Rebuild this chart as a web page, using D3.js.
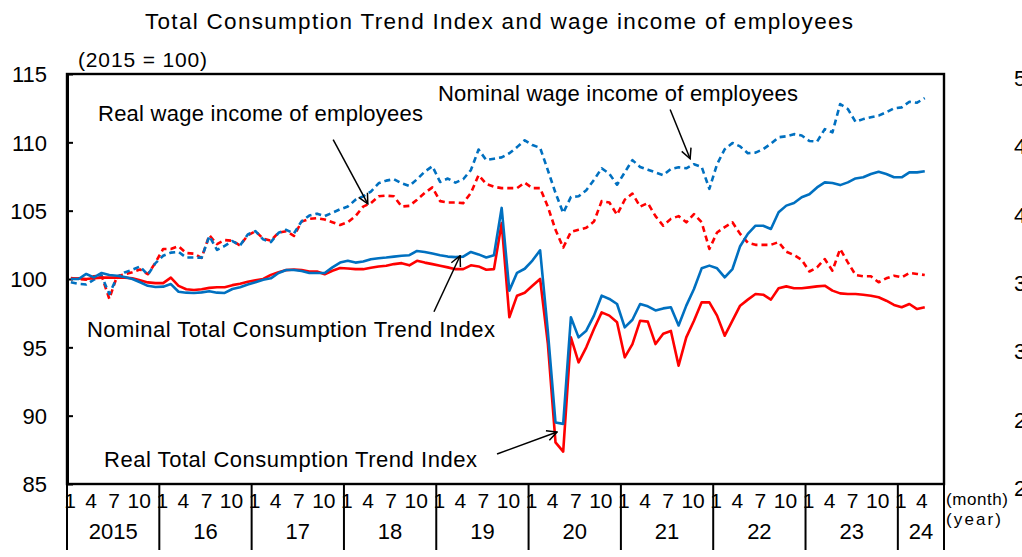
<!DOCTYPE html>
<html>
<head>
<meta charset="utf-8">
<script src="https://cdn.jsdelivr.net/npm/d3@7"></script>
<style>
  html, body { margin: 0; padding: 0; background: #fff; overflow: hidden; }
  text { font-family: "Liberation Sans", Arial, sans-serif; fill: #000; }
</style>
</head>
<body>
<div class="chart__wrapper"></div>
<script>
// monthly values, Jan 2015 .. Apr 2024 (2015 = 100)
const yearLabels = ["2015", "16", "17", "18", "19", "20", "21", "22", "23", "24"];
const monthLabels = ["1", "4", "7", "10"];
const monthsOnAxis = 114; // Jan 2015 .. Jun 2024
const yTicks = [85, 90, 95, 100, 105, 110, 115];
const rightTickLabels = ["50", "45", "40", "35", "30", "25", "20"];

const nominalTCI = [
  100.0, 100.0, 100.37, 100.12, 100.44, 100.29, 100.24, 100.15, 100.0, 99.76, 99.5, 99.41,
  99.44, 99.63, 99.07, 99.0, 98.98, 99.02, 99.1, 99.0, 98.98, 99.27, 99.4, 99.6,
  99.76, 99.95, 100.05, 100.44, 100.66, 100.66, 100.59, 100.44, 100.44, 100.44, 100.85, 101.2,
  101.33, 101.2, 101.28, 101.45, 101.52, 101.57, 101.64, 101.7, 101.74, 102.05, 101.98, 101.86,
  101.74, 101.64, 101.6, 101.64, 101.98, 101.8, 101.57, 101.74, 105.2, 99.15, 100.45, 100.75,
  101.35, 102.1, 96.2, 89.5, 89.4, 97.2, 95.73, 96.22, 97.32, 98.78, 98.54, 98.17,
  96.46, 97.02, 98.17, 98.0, 97.7, 97.85, 97.93, 96.6, 98.05, 99.27, 100.78, 100.98,
  100.78, 100.12, 100.73, 102.4, 103.3, 103.9, 103.9, 103.66, 104.88, 105.37, 105.56, 105.98,
  106.2, 106.7, 107.07, 107.02, 106.87, 107.07, 107.36, 107.44, 107.68, 107.85, 107.68, 107.44,
  107.44, 107.8, 107.8, 107.88
];
const realTCI = [
  100.0, 100.05, 100.0, 100.05, 100.1, 100.1, 100.1, 100.1, 100.05, 99.9, 99.75, 99.7,
  99.7, 100.1, 99.5, 99.25, 99.2, 99.25, 99.35, 99.4, 99.4, 99.55, 99.65, 99.8,
  99.9, 100.0, 100.3, 100.5, 100.65, 100.7, 100.65, 100.55, 100.55, 100.35, 100.6, 100.8,
  100.77, 100.72, 100.72, 100.82, 100.92, 100.97, 101.09, 101.16, 101.0, 101.33, 101.2, 101.09,
  100.97, 100.85, 100.72, 100.72, 101.0, 100.92, 100.68, 100.72, 104.1, 97.2, 98.78, 99.0,
  99.5, 100.0, 95.3, 88.05, 87.37, 95.73, 93.9, 95.0, 96.34, 97.56, 97.32, 96.83,
  94.27, 95.24, 96.95, 96.88, 95.24, 96.0, 96.2, 93.66, 95.73, 96.95, 98.29, 98.29,
  97.32, 95.85, 96.95, 98.05, 98.49, 98.9, 98.85, 98.49, 99.32, 99.46, 99.32, 99.32,
  99.39, 99.46, 99.51, 99.15, 98.95, 98.9, 98.9, 98.85, 98.78, 98.66, 98.41, 98.1,
  97.93, 98.17, 97.8, 97.93
];
const nominalWage = [
  99.76, 99.64, 99.6, 99.95, 100.24, 98.9, 100.12, 100.48, 100.68, 100.92, 100.3, 101.16,
  101.7, 101.93, 101.98, 101.57, 101.57, 101.55, 103.14, 102.13, 102.42, 102.78, 102.46, 103.26,
  103.5, 102.9, 102.7, 103.38, 103.6, 103.33, 104.23, 104.64, 104.78, 104.6, 104.85, 105.1,
  105.3, 105.8, 106.05, 106.4, 107.0, 107.2, 107.3, 107.0, 106.8, 107.3, 107.85, 108.25,
  107.1, 107.35, 107.05, 107.3, 107.97, 109.47, 108.7, 108.8, 108.9, 109.2, 109.65, 110.15,
  109.8, 109.6, 107.97, 106.3, 104.83, 106.0, 106.05, 106.5, 107.25, 108.1, 107.7, 106.9,
  107.8, 108.7, 108.2, 108.0, 107.8, 107.6, 108.05, 108.17, 108.1, 108.4, 108.2, 106.6,
  108.4, 109.5, 109.95, 109.7, 109.2, 109.25, 109.5, 109.9, 110.37, 110.44, 110.6, 110.5,
  110.1, 110.05, 110.97, 110.73, 112.8, 112.44, 111.5, 111.7, 111.83, 111.95, 112.2, 112.49,
  112.56, 112.97, 112.9, 113.24
];
const realWage = [
  100.07, 100.0, 99.95, 100.2, 100.25, 98.55, 100.2, 100.35, 100.5, 100.7, 100.35, 101.2,
  102.2, 102.2, 102.4, 101.9, 101.85, 101.55, 103.2, 102.55, 102.85, 102.8, 102.45, 103.2,
  103.5, 102.95, 102.8, 103.4, 103.5, 103.15, 104.2, 104.4, 104.45, 104.35, 104.15, 103.95,
  104.15, 104.6, 105.3, 105.55, 106.05, 106.1, 106.05, 105.3, 105.35, 105.8, 106.3, 106.7,
  105.7, 105.6, 105.6, 105.55, 106.3, 107.6, 106.95, 106.75, 106.65, 106.65, 106.65, 107.05,
  106.65, 106.65, 105.3, 103.6, 102.3, 103.45, 103.6, 103.75, 104.2, 105.7, 105.6, 104.7,
  105.8, 106.25, 105.3, 105.55, 104.6, 103.9, 104.4, 104.6, 104.15, 104.75, 104.15, 102.2,
  103.4, 103.8, 104.15, 103.3, 102.65, 102.5, 102.5, 102.5, 102.7, 102.0, 101.75, 101.4,
  100.55, 100.85, 101.46, 100.61, 102.2, 101.22, 100.3, 100.2, 100.2, 99.76, 100.05, 100.24,
  100.12, 100.44, 100.37, 100.29
];

const series = [
  { name: "Real wage income of employees", values: realWage, color: "#ff0000", dash: "6,4" },
  { name: "Nominal wage income of employees", values: nominalWage, color: "#0070c0", dash: "6,4" },
  { name: "Real Total Consumption Trend Index", values: realTCI, color: "#ff0000", dash: null },
  { name: "Nominal Total Consumption Trend Index", values: nominalTCI, color: "#0070c0", dash: null },
];

// label text box (px) and arrow from/to in (month index, value)
const notes = [
  { text: "Real wage income of employees", x: 98, y: 121, w: 325, from: [34.1, 110.2], to: [38.6, 105.5] },
  { text: "Nominal wage income of employees", x: 438, y: 101, w: 360, from: [77.9, 112.4], to: [80.5, 108.8] },
  { text: "Nominal Total Consumption Trend Index", x: 87, y: 337, w: 408, from: [47.2, 97.6], to: [50.6, 101.7] },
  { text: "Real Total Consumption Trend Index", x: 104, y: 467, w: 373, from: [55.4, 87.2], to: [63.2, 88.8] },
];

const svgWidth = 1022;
const svgHeight = 557;
const margin = { top: 74, right: 78, bottom: 73, left: 67 };
const width = svgWidth - margin.left - margin.right;
const height = svgHeight - margin.top - margin.bottom;

const root = d3
  .select(".chart__wrapper")
  .append("svg")
  .attr("width", svgWidth)
  .attr("height", svgHeight);

root
  .append("text")
  .attr("x", 145)
  .attr("y", 29)
  .attr("font-size", 22.5)
  .attr("textLength", 708)
  .attr("lengthAdjust", "spacing")
  .text("Total Consumption Trend Index and wage income of employees");

root
  .append("text")
  .attr("x", 78)
  .attr("y", 67)
  .attr("font-size", 21)
  .attr("textLength", 129)
  .attr("lengthAdjust", "spacing")
  .text("(2015 = 100)");

const svg = root.append("g").attr("transform", `translate(${margin.left},${margin.top})`);

const x = d3.scaleLinear().domain([0, monthsOnAxis]).range([0, width]);
const y = d3.scaleLinear().domain([85, 115]).range([height, 0]);

// frame
svg
  .append("rect")
  .attr("width", width)
  .attr("height", height)
  .attr("fill", "none")
  .attr("stroke", "#000")
  .attr("stroke-width", 2.4);

const yAxis = svg
  .append("g")
  .call(d3.axisLeft(y).tickValues(yTicks).tickSizeInner(-6).tickSizeOuter(0).tickPadding(20));
yAxis.select(".domain").attr("stroke-width", 3);
yAxis.selectAll("line").attr("stroke-width", 2);
yAxis.selectAll("text").attr("font-size", 22).attr("font-family", null).attr("dy", "0.36em");

// cut-off labels of the neighbouring chart on the right
root
  .append("g")
  .selectAll("text")
  .data(rightTickLabels)
  .join("text")
  .attr("x", 1014)
  .attr("y", (d, i) => margin.top + y(yTicks[yTicks.length - 1 - i]) + 4)
  .attr("dy", "0.36em")
  .attr("font-size", 22)
  .text((d) => d);

// month / year axis
const xAxis = svg.append("g").attr("transform", `translate(0,${height})`);
const yearStarts = d3.range(yearLabels.length + 1).map((k) => Math.min(k * 12, monthsOnAxis));

xAxis
  .selectAll(".sep")
  .data(yearStarts)
  .join("line")
  .attr("x1", (d) => x(d))
  .attr("x2", (d) => x(d))
  .attr("y1", 0)
  .attr("y2", 66)
  .attr("stroke", "#000")
  .attr("stroke-width", 2);

const monthTicks = [];
yearLabels.forEach((yl, k) => {
  monthLabels.forEach((m) => {
    const idx = k * 12 + (+m - 1);
    if (idx < monthsOnAxis) monthTicks.push({ label: m, idx });
  });
});

xAxis
  .selectAll(".month")
  .data(monthTicks)
  .join("text")
  .attr("x", (d) => x(d.idx) + (d.label === "1" ? 3 : d.label === "10" ? 3 : 1))
  .attr("y", 24)
  .attr("text-anchor", "middle")
  .attr("font-size", 21)
  .text((d) => d.label);

xAxis
  .selectAll(".year")
  .data(yearLabels)
  .join("text")
  .attr("x", (d, k) => (x(yearStarts[k]) + x(yearStarts[k + 1])) / 2)
  .attr("y", 55)
  .attr("text-anchor", "middle")
  .attr("font-size", 22)
  .text((d) => d);

root
  .append("text")
  .attr("x", 946)
  .attr("y", 505)
  .attr("font-size", 17)
  .attr("textLength", 62)
  .attr("lengthAdjust", "spacing")
  .text("(month)");
root
  .append("text")
  .attr("x", 946)
  .attr("y", 525)
  .attr("font-size", 17)
  .attr("textLength", 55)
  .attr("lengthAdjust", "spacing")
  .text("(year)");

// lines
const line = d3
  .line()
  .x((d, i) => x(i + 0.5))
  .y((d) => y(d));

svg
  .selectAll(".series")
  .data(series)
  .join("path")
  .attr("class", "series")
  .attr("fill", "none")
  .attr("stroke", (d) => d.color)
  .attr("stroke-width", 2.6)
  .attr("stroke-linejoin", "round")
  .attr("stroke-dasharray", (d) => d.dash)
  .attr("d", (d) => line(d.values));

// annotations
root
  .append("defs")
  .append("marker")
  .attr("id", "arrow")
  .attr("viewBox", "0 0 12 12")
  .attr("refX", 11)
  .attr("refY", 6)
  .attr("markerWidth", 12)
  .attr("markerHeight", 12)
  .attr("markerUnits", "userSpaceOnUse")
  .attr("orient", "auto")
  .append("path")
  .attr("d", "M1,1 L11,6 L1,11")
  .attr("fill", "none")
  .attr("stroke", "#000")
  .attr("stroke-width", 1.5);

svg
  .selectAll(".arrow")
  .data(notes)
  .join("line")
  .attr("x1", (d) => x(d.from[0] + 0.5))
  .attr("y1", (d) => y(d.from[1]))
  .attr("x2", (d) => x(d.to[0] + 0.5))
  .attr("y2", (d) => y(d.to[1]))
  .attr("stroke", "#000")
  .attr("stroke-width", 1.5)
  .attr("marker-end", "url(#arrow)");

root
  .selectAll(".note")
  .data(notes)
  .join("text")
  .attr("x", (d) => d.x)
  .attr("y", (d) => d.y)
  .attr("font-size", 22)
  .attr("textLength", (d) => d.w)
  .attr("lengthAdjust", "spacing")
  .text((d) => d.text);
</script>
</body>
</html>
